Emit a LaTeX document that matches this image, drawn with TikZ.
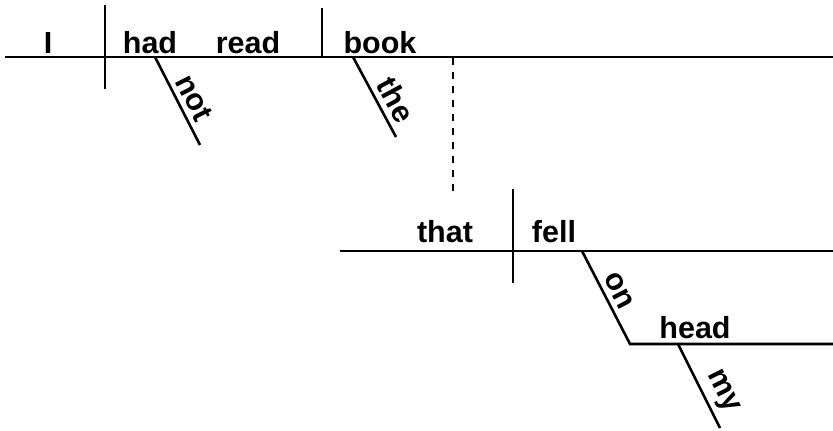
\documentclass[tikz,border=0pt]{standalone}
\usepackage{fontspec}
\setmainfont{Liberation Sans}
\begin{document}
\begin{tikzpicture}[x=1pt,y=-1pt,
  rule/.style={line width=2.6pt},
  word/.style={font=\fontsize{30.5}{31}\selectfont\bfseries, inner sep=0pt, anchor=base},
  slword/.style={font=\fontsize{30.5}{31}\selectfont\bfseries, inner sep=0pt, sloped, above=5pt},
  conn/.style={line width=1.2pt, dash pattern=on 7pt off 7pt}]
\useasboundingbox (0,0) rectangle (833,431);
% main clause
\coordinate (mL) at (5,57);
\coordinate (mR) at (833,57);
\coordinate (v1t) at (105,5);
\coordinate (v1b) at (105,89);
\coordinate (v2t) at (322,8);
\coordinate (v2b) at (322,57);
\coordinate (notA) at (155,57);
\coordinate (notB) at (200,145);
\coordinate (theA) at (353,57);
\coordinate (theB) at (396,137);
\coordinate (dA) at (453,58);
\coordinate (dB) at (453,192);
% relative clause
\coordinate (rL) at (340,251);
\coordinate (rR) at (833,251);
\coordinate (v3t) at (513,189);
\coordinate (v3b) at (513,283);
\coordinate (onA) at (582,251);
\coordinate (onB) at (630,344);
\coordinate (hR) at (833,344);
\coordinate (myA) at (678,344);
\coordinate (myB) at (720,428);

\draw[rule] (mL) -- (mR);
\draw[rule] (v1t) -- (v1b);
\draw[rule] (v2t) -- (v2b);
\draw[rule] (notA) -- node[slword, pos=0.55]{not} (notB);
\draw[rule] (theA) -- node[slword, pos=0.64]{the} (theB);
\draw[conn] (dA) -- (dB);
\draw[rule] (rL) -- (rR);
\draw[rule] (v3t) -- (v3b);
\draw[rule] (onA) -- node[slword, pos=0.5]{on} (onB) -- (hR);
\draw[rule] (myA) -- node[slword, pos=0.66]{my} (myB);

\node[word] (wI) at (48,53) {I};
\node[word] (whad) at (150,53) {had};
\node[word] (wread) at (248,53) {read};
\node[word] (wbook) at (380,53) {book};
\node[word] (wthat) at (445,242) {that};
\node[word] (wfell) at (554,242) {fell};
\node[word] (whead) at (695,338) {head};
\end{tikzpicture}
\end{document}
